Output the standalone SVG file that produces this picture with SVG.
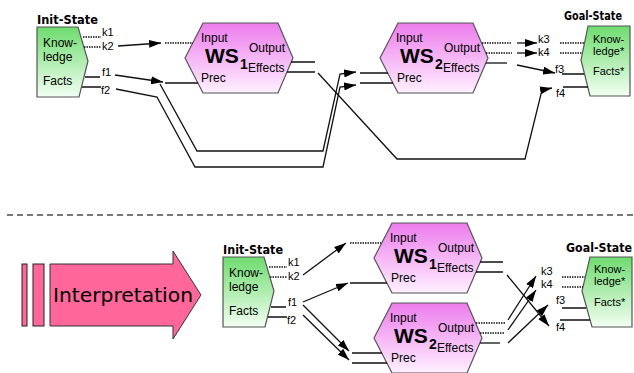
<svg xmlns="http://www.w3.org/2000/svg" width="634" height="373" viewBox="0 0 634 373">
<defs>
<linearGradient id="gWS" x1="0" y1="0" x2="0" y2="1">
<stop offset="0" stop-color="#ec7cec"/><stop offset="1" stop-color="#fff0ff"/>
</linearGradient>
<linearGradient id="gSt" x1="0" y1="0" x2="0" y2="1">
<stop offset="0" stop-color="#6edc6e"/><stop offset="1" stop-color="#f2fff2"/>
</linearGradient>
<marker id="ah" viewBox="0 0 12 8" refX="12" refY="4" markerWidth="12" markerHeight="8" markerUnits="userSpaceOnUse" orient="auto">
<path d="M0,0 L12,4 L0,8 z" fill="#000"/>
</marker>
<style>
.t{font-family:"Liberation Sans",Arial,sans-serif;font-size:12px;fill:#000}
.g{font-family:"Liberation Sans",Arial,sans-serif;font-size:11px;fill:#000}
.p{font-family:"Liberation Sans",Arial,sans-serif;font-size:11px;fill:#000}
.h{font-family:"DejaVu Sans",Verdana,sans-serif;font-size:11.5px;font-weight:bold;fill:#000}
.ws{font-family:"Liberation Sans",Arial,sans-serif;font-size:21px;font-weight:bold;fill:#000}
.sub{font-family:"Liberation Sans",Arial,sans-serif;font-size:14px;font-weight:bold;fill:#000}
.wsbox{fill:url(#gWS);stroke:#555;stroke-width:1.2}
.stbox{fill:url(#gSt);stroke:#555;stroke-width:1.2}
.ln{fill:none;stroke:#111;stroke-width:1.3}
.dot{fill:none;stroke:#111;stroke-width:1.5;stroke-dasharray:1.5 1}
.arr{fill:none;stroke:#111;stroke-width:1.3;marker-end:url(#ah)}
</style>
</defs>
<rect width="634" height="373" fill="#fff"/>

<!-- TOP -->
<g id="init-top">
<text class="h" x="37" y="24" textLength="61" lengthAdjust="spacingAndGlyphs">Init-State</text>
<polygon class="stbox" points="37,27 78,27 88,61 79,97 37,97"/>
<text class="t" x="43" y="47">Know-</text>
<text class="t" x="43" y="61">ledge</text>
<text class="t" x="43" y="85">Facts</text>
<text class="p" x="102" y="36">k1</text>
<text class="p" x="102" y="50">k2</text>
<text class="p" x="102" y="76">f1</text>
<text class="p" x="101" y="94">f2</text>
<path class="dot" d="M83,37 H101 M84,47 H101"/>
<path class="ln" d="M85,77 H100 M82,87 H101"/>
</g>

<g id="ws1-top">
<polygon class="wsbox" points="185,58 203,23 278,23 293,58 278,93 203,93"/>
<text class="t" x="201" y="42">Input</text>
<text class="ws" x="205" y="63">WS</text>
<text class="sub" x="240" y="69">1</text>
<text class="t" x="249" y="52">Output</text>
<text class="t" x="248" y="72">Effects</text>
<text class="t" x="201" y="82">Prec</text>
<path class="ln" d="M291,62 H315 M287,72 H315"/>
</g>

<g id="ws2-top">
<polygon class="wsbox" points="380,58 398,23 473,23 488,58 473,93 398,93"/>
<text class="t" x="396" y="42">Input</text>
<text class="ws" x="400" y="63">WS</text>
<text class="sub" x="435" y="69">2</text>
<text class="t" x="444" y="52">Output</text>
<text class="t" x="443" y="72">Effects</text>
<text class="t" x="397" y="82">Prec</text>
<path class="dot" d="M482,43 H512 M486,53 H512"/>
<path class="ln" d="M486,63 H507"/>
</g>

<g id="goal-top">
<text class="h" x="564" y="20" textLength="58" lengthAdjust="spacingAndGlyphs">Goal-State</text>
<polygon class="stbox" points="588,26 630,26 630,96 590,96 581,60"/>
<text class="g" x="593" y="43">Know-</text>
<text class="g" x="593" y="55">ledge*</text>
<text class="g" x="593" y="75">Facts*</text>
<text class="p" x="538" y="43">k3</text>
<text class="p" x="538" y="56">k4</text>
<text class="p" x="555" y="73">f3</text>
<text class="p" x="556" y="97">f4</text>
<path class="dot" d="M560,43 H584 M560,53 H582"/>
<path class="ln" d="M562,74 H584 M563,87 H588"/>
</g>

<g id="connectors-top">
<path class="arr" d="M118,46 L161,43"/>
<path class="dot" d="M165,43 H193"/>
<path class="arr" d="M115,75 L163,82"/>
<path class="ln" d="M165,83 H198"/>
<path class="arr" d="M160,84 L197,151 L323,151 L340,74 L356,72"/>
<path class="arr" d="M116,89 L157,97 L195,167 L323,167 L340,87 L356,85"/>
<path class="ln" d="M360,73 H388 M360,83 H393"/>
<path class="arr" d="M318,73 L397,159 L525,159 L542,90 L552,88"/>
<path class="arr" d="M517,43 H537"/>
<path class="arr" d="M517,53 H537"/>
<path class="arr" d="M517,65 L555,73"/>
</g>

<line x1="7" y1="215" x2="634" y2="215" stroke="#777" stroke-width="2" stroke-dasharray="6 4"/>

<!-- BOTTOM -->
<g id="interpretation">
<rect x="22" y="264" width="5" height="62" fill="#ff6699" stroke="#222" stroke-width="1"/>
<rect x="33" y="264" width="11" height="62" fill="#ff6699" stroke="#222" stroke-width="1"/>
<polygon points="50,264 173,264 173,251 201,295 173,339 173,326 50,326" fill="#ff6699" stroke="#333" stroke-width="1"/>
<text x="53" y="302" font-family="DejaVu Sans, Verdana, sans-serif" font-size="20" textLength="140" lengthAdjust="spacingAndGlyphs" fill="#000">Interpretation</text>
</g>

<g id="init-bottom">
<text class="h" x="223" y="254" textLength="60" lengthAdjust="spacingAndGlyphs">Init-State</text>
<polygon class="stbox" points="223,257 264,257 274,291 265,327 223,327"/>
<text class="t" x="229" y="277">Know-</text>
<text class="t" x="229" y="291">ledge</text>
<text class="t" x="229" y="315">Facts</text>
<text class="p" x="288" y="266">k1</text>
<text class="p" x="288" y="280">k2</text>
<text class="p" x="288" y="306">f1</text>
<text class="p" x="287" y="324">f2</text>
<path class="dot" d="M269,267 H287 M270,277 H287"/>
<path class="ln" d="M271,307 H286 M268,317 H287"/>
</g>

<g id="ws1-bottom">
<polygon class="wsbox" points="374,258 392,223 467,223 482,258 467,293 392,293"/>
<text class="t" x="390" y="242">Input</text>
<text class="ws" x="394" y="263">WS</text>
<text class="sub" x="429" y="269">1</text>
<text class="t" x="438" y="252">Output</text>
<text class="t" x="437" y="272">Effects</text>
<text class="t" x="391" y="282">Prec</text>
<path class="ln" d="M480,262 H503 M476,272 H503"/>
</g>

<g id="ws2-bottom">
<polygon class="wsbox" points="374,338 392,303 467,303 482,338 467,373 392,373"/>
<text class="t" x="390" y="322">Input</text>
<text class="ws" x="394" y="343">WS</text>
<text class="sub" x="429" y="349">2</text>
<text class="t" x="438" y="332">Output</text>
<text class="t" x="437" y="352">Effects</text>
<text class="t" x="391" y="362">Prec</text>
<path class="dot" d="M476,323 H505 M480,333 H505"/>
<path class="ln" d="M480,343 H500"/>
</g>

<g id="goal-bottom">
<text class="h" x="566" y="252" textLength="66" lengthAdjust="spacingAndGlyphs">Goal-State</text>
<polygon class="stbox" points="590,257 632,257 632,327 592,327 582,291"/>
<text class="g" x="594" y="273">Know-</text>
<text class="g" x="594" y="285">ledge*</text>
<text class="g" x="594" y="306">Facts*</text>
<text class="p" x="541" y="275">k3</text>
<text class="p" x="541" y="288">k4</text>
<text class="p" x="556" y="304">f3</text>
<text class="p" x="556" y="331">f4</text>
<path class="dot" d="M562,277 H585 M562,287 H583"/>
<path class="ln" d="M562,308 H586 M560,320 H590"/>
</g>

<g id="connectors-bottom">
<path class="arr" d="M303,275 L346,243"/>
<path class="dot" d="M350,243 H381"/>
<path class="arr" d="M303,302 L348,283"/>
<path class="ln" d="M350,283 H387"/>
<path class="arr" d="M303,305 L349,351"/>
<path class="arr" d="M303,315 L349,360"/>
<path class="ln" d="M352,353 H382 M352,363 H387"/>
<path class="arr" d="M507,275 L549,326"/>
<path class="arr" d="M508,320 L536,276"/>
<path class="arr" d="M508,330 L536,290"/>
<path class="arr" d="M508,343 L548,305"/>
</g>
</svg>
